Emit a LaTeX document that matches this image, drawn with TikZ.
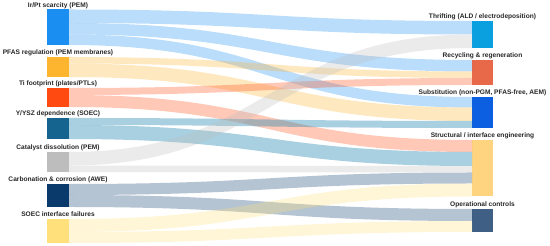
\documentclass[tikz,border=0pt]{standalone}
\usepackage{fontspec}
\setmainfont{Liberation Sans}
\usetikzlibrary{calc}
\definecolor{cIr}{HTML}{1B8EF2}
\definecolor{cPF}{HTML}{FDB42F}
\definecolor{cTi}{HTML}{FF4A12}
\definecolor{cY}{HTML}{14648F}
\definecolor{cYl}{HTML}{2589B1}
\definecolor{cCat}{HTML}{BDBDBD}
\definecolor{cCarb}{HTML}{0A3A6B}
\definecolor{cSO}{HTML}{FFE07A}
\definecolor{cThr}{HTML}{0AA0E0}
\definecolor{cRec}{HTML}{E8684A}
\definecolor{cSub}{HTML}{0B5FE0}
\definecolor{cStr}{HTML}{FFD480}
\definecolor{cOp}{HTML}{3F5F85}
\tikzset{
  bar/.style={inner sep=0pt, outer sep=0pt, minimum width=22pt, anchor=north west, draw=none},
  rbar/.style={bar, minimum width=21pt},
  lab/.style={font=\fontsize{6.6}{7}\selectfont\bfseries, text=black!85, inner sep=0pt, anchor=base},
  band/.style={fill opacity=0.3}
}
% \flow{src}{src offset}{tgt}{tgt offset}{thickness}{colour}
\newcommand\flow[6]{%
  \fill[band, fill=#6] let \p1=($(#1.north east)+(0,-#2pt)$), \p2=($(#3.north west)+(0,-#4pt)$) in
    (\p1) .. controls (\x1/2+\x2/2,\y1) and (\x1/2+\x2/2,\y2) .. (\p2)
    -- (\x2,\y2-#5pt) .. controls (\x1/2+\x2/2,\y2-#5pt) and (\x1/2+\x2/2,\y1-#5pt) .. (\x1,\y1-#5pt) -- cycle;}
\begin{document}
\begin{tikzpicture}[x=1pt,y=1pt]
\useasboundingbox (0,0) rectangle (550,246);
% left nodes
\node[bar, fill=cIr, minimum height=35.5pt] (ir) at (47,236.5) {};
\node[bar, fill=cPF, minimum height=20pt] (pf) at (47,189) {};
\node[bar, fill=cTi, minimum height=19pt] (ti) at (47,158) {};
\node[bar, fill=cY, minimum height=21pt] (y) at (47,128) {};
\node[bar, fill=cCat, minimum height=20pt] (cat) at (47,94) {};
\node[bar, fill=cCarb, minimum height=23pt] (carb) at (47,62) {};
\node[bar, fill=cSO, minimum height=24pt] (so) at (47,27) {};
% right nodes
\node[rbar, fill=cThr, minimum height=27pt] (thr) at (472,225) {};
\node[rbar, fill=cRec, minimum height=25pt] (rec) at (472,186) {};
\node[rbar, fill=cSub, minimum height=31pt] (sub) at (472,149) {};
\node[rbar, fill=cStr, minimum height=56.5pt] (str) at (472,106) {};
\node[rbar, fill=cOp, minimum height=23pt] (op) at (472,37) {};
% flows
\flow{ir}{0}{thr}{0}{13.5}{cIr}
\flow{ir}{13.5}{rec}{0}{11.5}{cIr}
\flow{ir}{25}{sub}{0}{10.5}{cIr}
\flow{pf}{0}{rec}{11.5}{6.5}{cPF}
\flow{pf}{6.5}{sub}{10.5}{13.5}{cPF}
\flow{ti}{0}{rec}{18}{7}{cTi}
\flow{ti}{7}{str}{0}{12}{cTi}
\begin{scope}[band/.style={fill opacity=0.4}]
\flow{y}{0}{sub}{24}{7}{cYl}
\flow{y}{7}{str}{12}{14}{cYl}
\end{scope}
\flow{cat}{0}{thr}{13.5}{13.5}{cCat}
\flow{cat}{13.5}{str}{26}{6.5}{cCat}
\flow{carb}{0}{str}{32.5}{11}{cCarb}
\flow{carb}{11}{op}{0}{12}{cCarb}
\flow{so}{0}{str}{43.5}{13}{cSO}
\flow{so}{13}{op}{12}{11}{cSO}
% labels
\node[lab] (irl) at ($(ir.north)+(0,2.2)$) {Ir/Pt scarcity (PEM)};
\node[lab] (pfl) at ($(pf.north)+(0,2.2)$) {PFAS regulation (PEM membranes)};
\node[lab] (til) at ($(ti.north)+(0,2.2)$) {Ti footprint (plates/PTLs)};
\node[lab] (yl) at ($(y.north)+(0,2.2)$) {Y/YSZ dependence (SOEC)};
\node[lab] (catl) at ($(cat.north)+(0,2.2)$) {Catalyst dissolution (PEM)};
\node[lab] (carbl) at ($(carb.north)+(0,2.2)$) {Carbonation \& corrosion (AWE)};
\node[lab] (sol) at ($(so.north)+(0,2.2)$) {SOEC interface failures};
\node[lab] (thrl) at ($(thr.north)+(0,2.2)$) {Thrifting (ALD / electrodeposition)};
\node[lab] (recl) at ($(rec.north)+(0,2.2)$) {Recycling \& regeneration};
\node[lab] (subl) at ($(sub.north)+(0,2.2)$) {Substitution (non-PGM, PFAS-free, AEM)};
\node[lab] (strl) at ($(str.north)+(0,2.2)$) {Structural / interface engineering};
\node[lab] (opl) at ($(op.north)+(0,2.2)$) {Operational controls};
\end{tikzpicture}
\end{document}
